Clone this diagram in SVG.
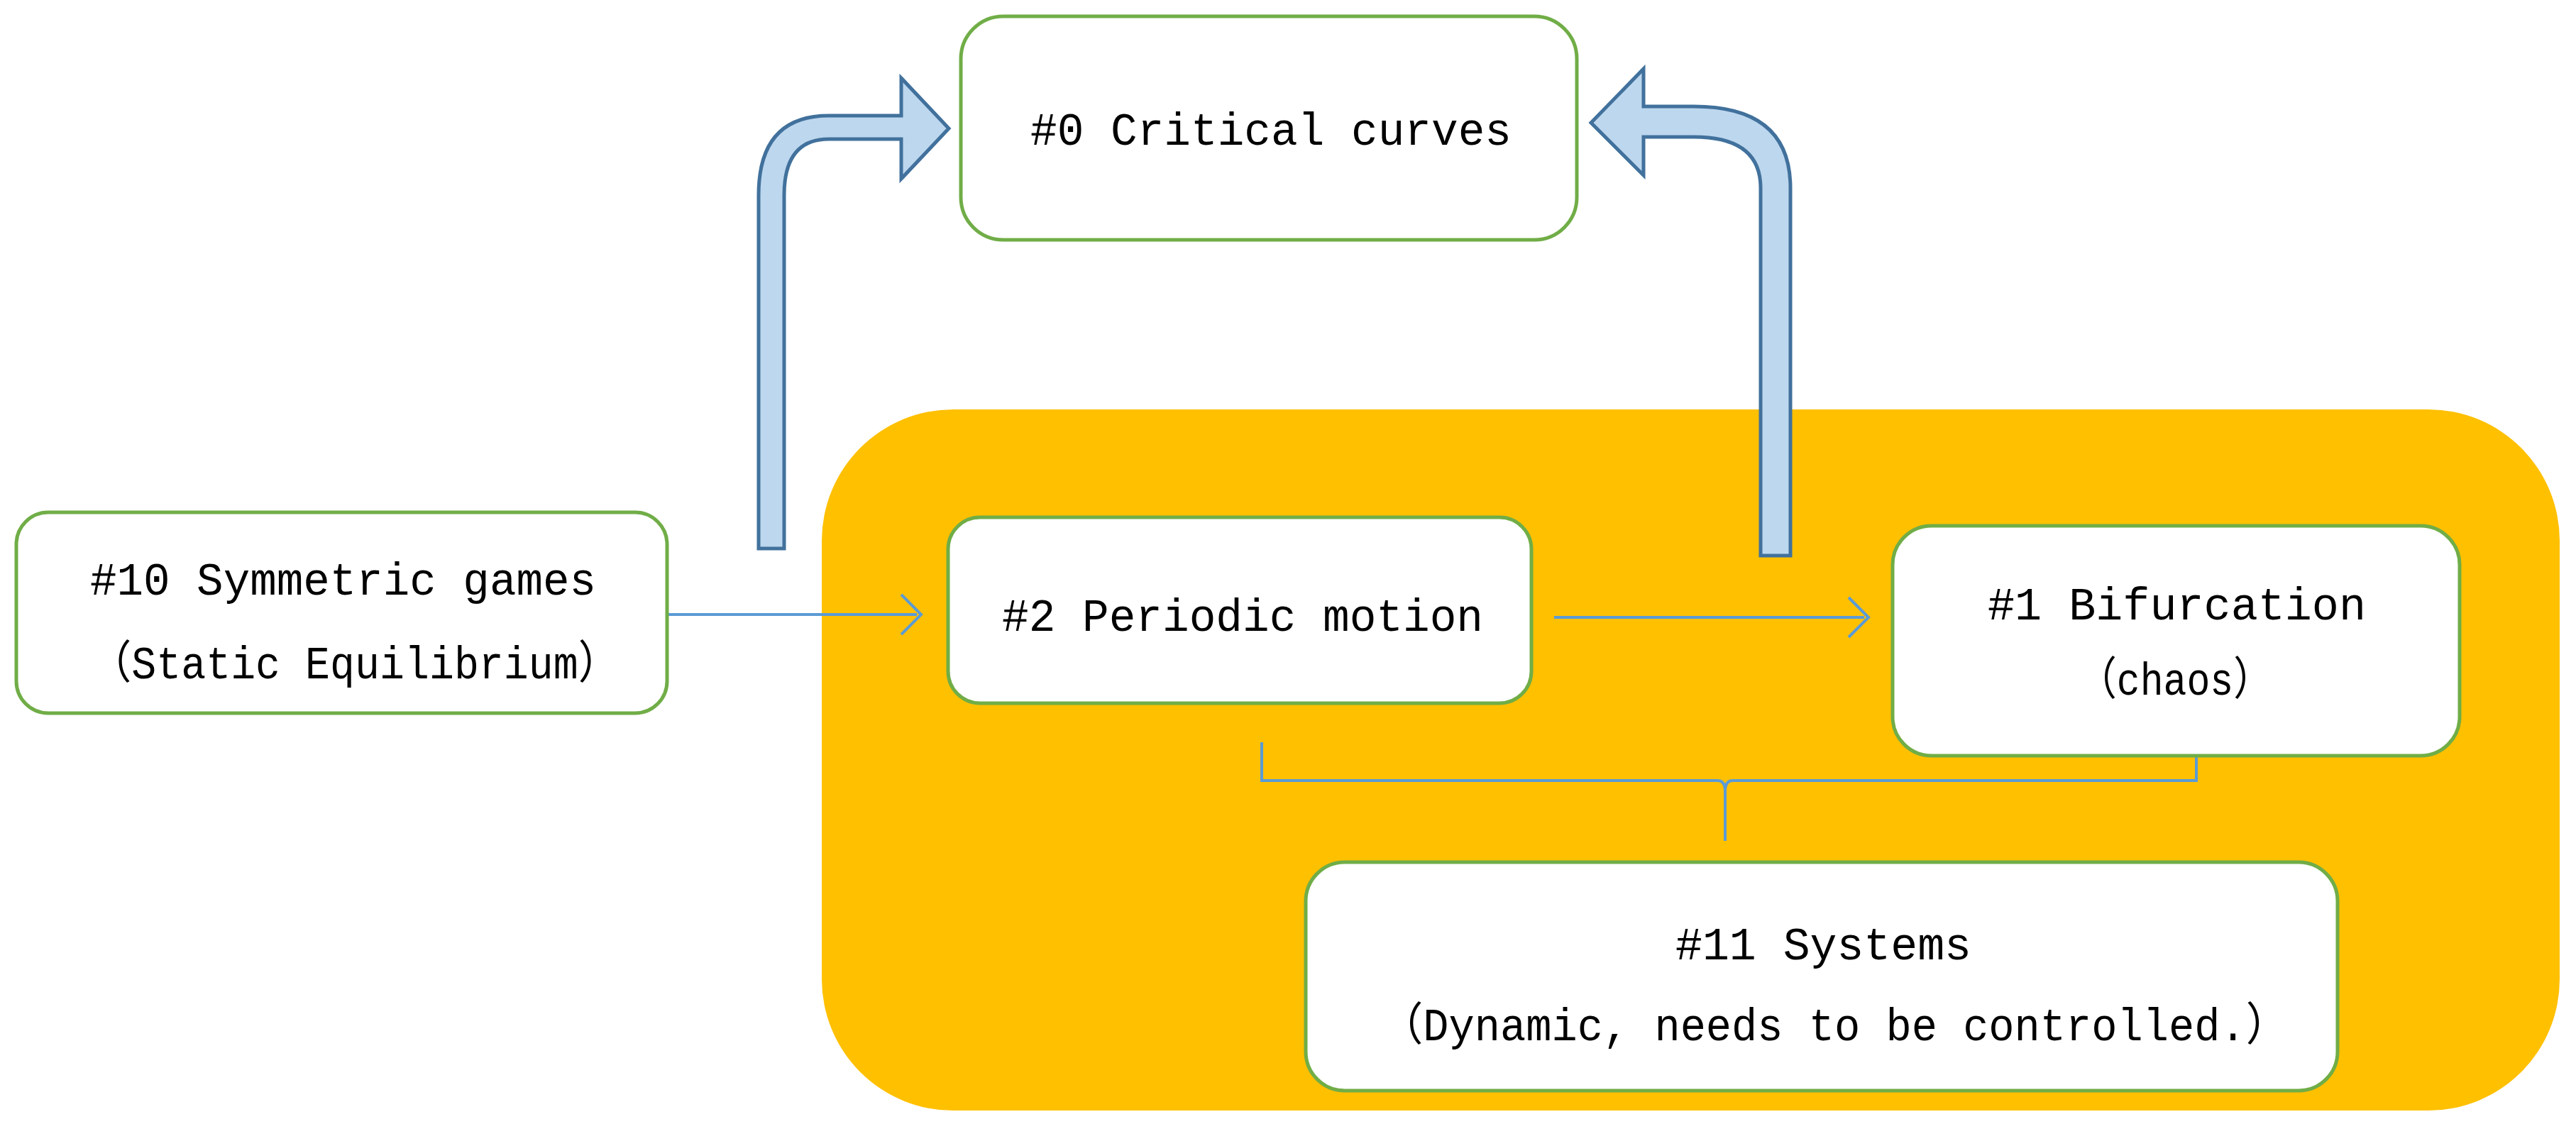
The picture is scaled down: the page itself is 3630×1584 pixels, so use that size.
<svg xmlns="http://www.w3.org/2000/svg" width="3630" height="1584" viewBox="0 0 3630 1584">
<style>
.box{fill:#fff;stroke:#70AD47;stroke-width:5}
.t{font-family:"Liberation Mono","Noto Sans CJK SC",monospace;font-size:64px;fill:#000}
.ln{fill:none;stroke:#5B9BD5;stroke-width:4}
.blk{fill:#BDD7EE;stroke:#41719C;stroke-width:5;stroke-linejoin:miter}
</style>
<defs>
<marker id="open" markerWidth="16" markerHeight="24" refX="14" refY="12" orient="auto" markerUnits="userSpaceOnUse">
<path d="M-26,-40 L14,12 L-26,64" transform="scale(0.45) translate(0,14)" fill="none" stroke="#5B9BD5" stroke-width="8"/>
</marker>
</defs>
<rect width="3630" height="1584" fill="#fff"/>
<g id="group-bg"><rect x="1158" y="577" width="2449" height="988" rx="185" fill="#FFC000"/></g>
<g id="connectors">
<path class="blk" d="M1069,773 L1069,275 Q1069,163 1168,163 L1270,163 L1270,110 L1337,181 L1270,252 L1270,196 L1168,196 Q1105,196 1105,275 L1105,773 Z"/>
<path class="blk" d="M2523,783 L2523,265 Q2523,150 2387,150 L2316,150 L2316,97 L2242,173 L2316,247 L2316,193 L2387,193 Q2481,193 2481,265 L2481,783 Z"/>
<line class="ln" x1="940" y1="866" x2="1292" y2="866"/>
<path class="ln" d="M1270,838 L1298,866 L1270,894"/>
<line class="ln" x1="2190" y1="870" x2="2627" y2="870"/>
<path class="ln" d="M2605,842 L2633,870 L2605,898"/>
<path class="ln" d="M1778,1046 L1778,1100 L2420,1100 Q2431,1100 2431,1115 L2431,1185 M2431,1115 Q2431,1100 2442,1100 L3095,1100 L3095,1046"/>
</g>
<g id="n0"><rect class="box" x="1354" y="23" width="868" height="315" rx="60"/>
<text class="t" x="1452" y="204" textLength="678" lengthAdjust="spacingAndGlyphs">#0 Critical curves</text></g>
<g id="n10"><rect class="box" x="23" y="722" width="917" height="283" rx="45"/>
<text class="t" x="127" y="838" textLength="713" lengthAdjust="spacingAndGlyphs">#10 Symmetric games</text>
<text class="t" x="127" y="956" textLength="746" lengthAdjust="spacingAndGlyphs">（Static Equilibrium）</text></g>
<g id="n2"><rect class="box" x="1336" y="729" width="822" height="262" rx="45"/>
<text class="t" x="1412" y="889" textLength="678" lengthAdjust="spacingAndGlyphs">#2 Periodic motion</text></g>
<g id="n1"><rect class="box" x="2667" y="741" width="799" height="324" rx="55"/>
<text class="t" x="2801" y="873" textLength="533" lengthAdjust="spacingAndGlyphs">#1 Bifurcation</text>
<text class="t" x="2928" y="979" textLength="274" lengthAdjust="spacingAndGlyphs">（chaos）</text></g>
<g id="n11"><rect class="box" x="1840" y="1215" width="1454" height="322" rx="55"/>
<text class="t" x="2361" y="1352" textLength="417" lengthAdjust="spacingAndGlyphs">#11 Systems</text>
<text class="t" x="1945" y="1466" textLength="1280" lengthAdjust="spacingAndGlyphs">（Dynamic, needs to be controlled.）</text></g>
</svg>
